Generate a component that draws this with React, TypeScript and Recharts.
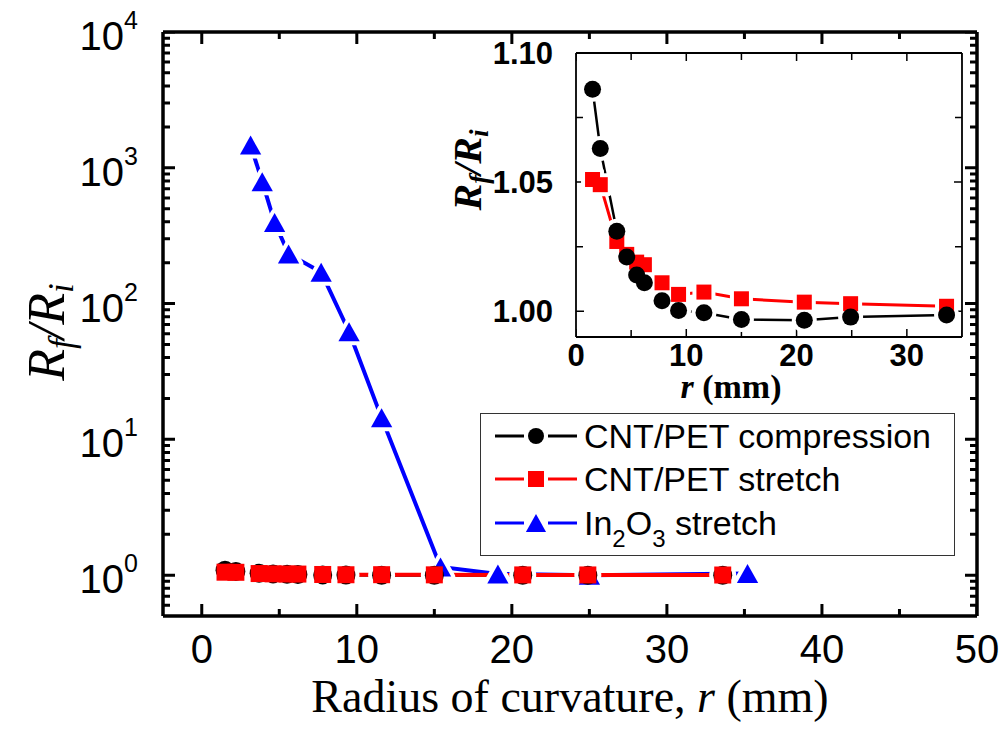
import React from "react";
import { LineChart, Line, XAxis, YAxis, Legend, Label } from "recharts";

// bending radius r (mm) for the CNT/PET film, same radii in both bending modes
const cntRadius = [1.5, 2.2, 3.7, 4.6, 5.5, 6.2, 7.8, 9.3, 11.6, 15.0, 20.7, 24.9, 33.6];
const cntCompression = [1.086, 1.063, 1.031, 1.021, 1.014, 1.011, 1.004, 1.0003, 0.9994, 0.9968, 0.9965, 0.9977, 0.9985];
const cntStretch = [1.051, 1.049, 1.027, 1.022, 1.019, 1.018, 1.011, 1.0065, 1.0074, 1.0048, 1.0035, 1.0029, 1.0019];

// In2O3 film, stretch only
const inoRadius = [3.15, 3.9, 4.7, 5.6, 7.7, 9.5, 11.6, 15.4, 19.1, 25.0, 35.2];
const inoStretch = [1470, 790, 395, 232, 170, 62, 14.4, 1.15, 1.02, 1.0, 1.03];

// axes
const mainXMajor = [0, 10, 20, 30, 40, 50];
const mainXMinor = [5, 15, 25, 35, 45];
const mainYMajor = [1, 10, 100, 1000, 10000];
const insetXMajor = [0, 10, 20, 30];
const insetXMinor = [5, 15, 25, 35];
const insetYMajor = [1.0, 1.05, 1.1];
const insetYMinor = [1.025, 1.075];

const SANS = '"Liberation Sans", Arial, sans-serif';
const SERIF = '"Liberation Serif", "Times New Roman", serif';

// log axis: minor ticks 2..9 in every decade (plus 0.6..0.9 below 1)
const mainYMinor: number[] = [];
[0.1, 1, 10, 100, 1000].forEach((d) => {
  for (let m = 2; m < 10; m++) {
    const v = +(m * d).toPrecision(6);
    if (v > 0.5 && v < 10000) mainYMinor.push(v);
  }
});

const toPoints = (xs: number[], ys: number[]) => xs.map((x, i) => ({ x, y: ys[i] }));

type Kind = "circle" | "square" | "triangle";

const SERIES: Record<string, { color: string; kind: Kind }> = {
  "CNT/PET compression": { color: "#000000", kind: "circle" },
  "CNT/PET stretch": { color: "#ff0000", kind: "square" },
  "In2O3 stretch": { color: "#0000ff", kind: "triangle" },
};
const legendOrder = ["CNT/PET compression", "CNT/PET stretch", "In2O3 stretch"];

function Mark({ cx, cy, kind, size, fill, halo = 0 }: any) {
  if (cx == null || cy == null) return null;
  const h = size / 2;
  const stroke = halo ? { stroke: fill, strokeWidth: halo, strokeLinejoin: "round" as const } : {};
  if (kind === "circle") return <circle cx={cx} cy={cy} r={h} fill={fill} {...stroke} />;
  if (kind === "square")
    return <rect x={cx - h} y={cy - h} width={size} height={size} fill={fill} {...stroke} />;
  const w = h * 1.12;
  return (
    <path
      d={`M${cx},${cy - h}L${cx + w},${cy + h}L${cx - w},${cy + h}Z`}
      fill={fill}
      {...stroke}
    />
  );
}

// frame geometry, used to turn tick lengths in px into data units
type Frame = { x0: number; x1: number; y0: number; y1: number; w: number; h: number; log: boolean };
const mainFrame: Frame = { x0: -2.5, x1: 50, y0: 0.5, y1: 10000, w: 814, h: 584, log: true };
const insetFrame: Frame = { x0: 0, x1: 35, y0: 0.99, y1: 1.1, w: 386, h: 284, log: false };

const xStep = (f: Frame, x: number, px: number) => x + (px * (f.x1 - f.x0)) / f.w;
const yStep = (f: Frame, y: number, px: number) =>
  f.log ? y * Math.pow(10, (px * Math.log10(f.y1 / f.y0)) / f.h) : y + (px * (f.y1 - f.y0)) / f.h;

// inward ticks on all four sides, as one broken polyline
function frameTicks(f: Frame, xMajor: number[], xMinor: number[], yMajor: number[], yMinor: number[], major: number, minor: number) {
  const pts: { x: number; y: number | null }[] = [];
  const seg = (a: { x: number; y: number }, b: { x: number; y: number }) => {
    pts.push(a, b, { x: b.x, y: null });
  };
  const xs = [...xMajor.map((v) => [v, major]), ...xMinor.map((v) => [v, minor])];
  const ys = [...yMajor.map((v) => [v, major]), ...yMinor.map((v) => [v, minor])];
  xs.forEach(([v, l]) => {
    seg({ x: v, y: f.y0 }, { x: v, y: yStep(f, f.y0, l) });
    seg({ x: v, y: f.y1 }, { x: v, y: yStep(f, f.y1, -l) });
  });
  ys.forEach(([v, l]) => {
    seg({ x: f.x0, y: v }, { x: xStep(f, f.x0, l), y: v });
    seg({ x: f.x1, y: v }, { x: xStep(f, f.x1, -l), y: v });
  });
  return pts;
}

// tick labels
const mainLeftLabel = (p: any) => (
  <text x={p.x - 25} y={p.y + 18} textAnchor="end" fontFamily={SANS} fontSize={40} fill="#000">
    10
    <tspan dy={-21} fontSize={25}>
      {Math.round(Math.log10(p.payload.value))}
    </tspan>
  </text>
);
const mainBottomLabel = (p: any) => (
  <text x={p.x} y={p.y + 47} textAnchor="middle" fontFamily={SANS} fontSize={40} fill="#000">
    {p.payload.value}
  </text>
);
const insetLeftLabel = (p: any) => (
  <text x={p.x - 23} y={p.y + 11} textAnchor="end" fontFamily={SANS} fontWeight="bold" fontSize={31} fill="#000">
    {Number(p.payload.value).toFixed(2)}
  </text>
);
const insetBottomLabel = (p: any) => (
  <text x={p.x} y={p.y + 29} textAnchor="middle" fontFamily={SANS} fontWeight="bold" fontSize={31} fill="#000">
    {p.payload.value}
  </text>
);

const withSubs = (name: string) =>
  name.split(/(\d)/).map((part, i) =>
    /\d/.test(part) ? (
      <span key={i} style={{ fontSize: 24, position: "relative", top: 12 }}>
        {part}
      </span>
    ) : (
      <span key={i}>{part}</span>
    )
  );

const renderLegend = (props: any) => {
  const seen = new Set<string>();
  const items = (props.payload ?? [])
    .filter((it: any) => {
      const ok = SERIES[it.value] && !seen.has(it.value);
      if (ok) seen.add(it.value);
      return ok;
    })
    .sort((a: any, b: any) => legendOrder.indexOf(a.value) - legendOrder.indexOf(b.value));
  return (
    <div
      style={{
        border: "1.5px solid #333",
        background: "#fff",
        padding: "0 0 10px 14px",
        width: 475,
        boxSizing: "border-box",
      }}
    >
      {items.map((it: any) => {
        const s = SERIES[it.value];
        const size = s.kind === "triangle" ? 18 : 16;
        return (
          <div key={it.value} style={{ display: "flex", alignItems: "center", height: 43.5 }}>
            <svg width={82} height={26}>
              <line x1={0} x2={29} y1={13} y2={13} stroke={s.color} strokeWidth={3} />
              <line x1={53} x2={82} y1={13} y2={13} stroke={s.color} strokeWidth={3} />
              <Mark cx={41} cy={13} kind={s.kind} size={size} fill={s.color} />
            </svg>
            <span style={{ marginLeft: 7, fontFamily: SANS, fontSize: 34, color: "#000", lineHeight: 1 }}>
              {withSubs(it.value)}
            </span>
          </div>
        );
      })}
    </div>
  );
};

// main plot: lines first, then white gaps round the symbols, then the symbols
const mainLayers = [
  { name: "In2O3 stretch", data: toPoints(inoRadius, inoStretch), size: 19, width: 4 },
  { name: "CNT/PET compression", data: toPoints(cntRadius, cntCompression), size: 19, width: 3 },
  { name: "CNT/PET stretch", data: toPoints(cntRadius, cntStretch), size: 17, width: 4 },
];
const insetLayers = [
  { name: "CNT/PET stretch", data: toPoints(cntRadius, cntStretch), size: 15, width: 3 },
  { name: "CNT/PET compression", data: toPoints(cntRadius, cntCompression), size: 17, width: 2.5 },
];

function layerSeries(layers: typeof mainLayers, withLegend: boolean) {
  const lines = layers.map((l) => (
    <Line
      key={`l-${l.name}`}
      data={l.data}
      dataKey="y"
      name={l.name}
      xAxisId="b"
      yAxisId="l"
      type="linear"
      stroke={SERIES[l.name].color}
      strokeWidth={l.width}
      dot={false}
      activeDot={false}
      legendType={withLegend ? "line" : "none"}
      isAnimationActive={false}
    />
  ));
  const halos = layers.map((l) => (
    <Line
      key={`h-${l.name}`}
      data={l.data}
      dataKey="y"
      name={`halo ${l.name}`}
      xAxisId="b"
      yAxisId="l"
      stroke="none"
      legendType="none"
      activeDot={false}
      dot={(p: any) => (
        <Mark key={`h-${l.name}-${p.index}`} cx={p.cx} cy={p.cy} kind={SERIES[l.name].kind} size={l.size} fill="#fff" halo={8} />
      )}
      isAnimationActive={false}
    />
  ));
  const marks = layers.map((l) => (
    <Line
      key={`m-${l.name}`}
      data={l.data}
      dataKey="y"
      name={`mark ${l.name}`}
      xAxisId="b"
      yAxisId="l"
      stroke="none"
      legendType="none"
      activeDot={false}
      dot={(p: any) => (
        <Mark key={`m-${l.name}-${p.index}`} cx={p.cx} cy={p.cy} kind={SERIES[l.name].kind} size={l.size} fill={SERIES[l.name].color} />
      )}
      isAnimationActive={false}
    />
  ));
  return [...lines, ...halos, ...marks];
}

// frame: one axis per side (line + labels), ticks from frameTicks
function frameAxes(o: {
  f: Frame;
  xMajor: number[];
  yMajor: number[];
  frameW: number;
  bottomLabel: (p: any) => React.ReactElement;
  leftLabel: (p: any) => React.ReactElement;
  xTitle: React.ReactElement;
  yTitle: React.ReactElement;
}) {
  const al = { stroke: "#000", strokeWidth: o.frameW };
  const common = { allowDataOverflow: true, interval: 0 as const, tickSize: 0, tickMargin: 0, tickLine: false, axisLine: al };
  return [
    <XAxis key="b" xAxisId="b" orientation="bottom" type="number" dataKey="x" domain={[o.f.x0, o.f.x1]} ticks={o.xMajor} height={1} tick={o.bottomLabel} {...common}>
      <Label content={() => o.xTitle} />
    </XAxis>,
    <XAxis key="t" xAxisId="t" orientation="top" type="number" dataKey="x" domain={[o.f.x0, o.f.x1]} ticks={o.xMajor} height={1} tick={false} {...common} />,
    <YAxis key="l" yAxisId="l" orientation="left" type="number" scale={o.f.log ? "log" : "auto"} domain={[o.f.y0, o.f.y1]} ticks={o.yMajor} width={1} tick={o.leftLabel} {...common}>
      <Label content={() => o.yTitle} />
    </YAxis>,
    <YAxis key="r" yAxisId="r" orientation="right" type="number" scale={o.f.log ? "log" : "auto"} domain={[o.f.y0, o.f.y1]} ticks={o.yMajor} width={1} tick={false} {...common} />,
  ];
}

const tickLine = (f: Frame, pts: any[], w: number) => (
  <Line
    key="frame-ticks"
    data={pts}
    dataKey="y"
    name="ticks"
    xAxisId="b"
    yAxisId="l"
    stroke="#000"
    strokeWidth={w}
    strokeLinecap="butt"
    dot={false}
    activeDot={false}
    legendType="none"
    isAnimationActive={false}
  />
);

export default function App() {
  return (
    <div style={{ position: "absolute", left: 0, top: 0, width: 1006, height: 731, background: "#fff" }}>
      <div style={{ position: "absolute", left: 0, top: 0 }}>
        <LineChart width={1006} height={731} margin={{ top: 31, right: 28, bottom: 114, left: 162 }}>
          {frameAxes({
            f: mainFrame,
            xMajor: mainXMajor,
            yMajor: mainYMajor,
            frameW: 3.5,
            bottomLabel: mainBottomLabel,
            leftLabel: mainLeftLabel,
            xTitle: (
              <text x={570} y={712} textAnchor="middle" fontFamily={SERIF} fontSize={46} fill="#000">
                Radius of curvature, <tspan fontStyle="italic">r</tspan> (mm)
              </text>
            ),
            yTitle: (
              <text
                transform="translate(64,332) rotate(-90)"
                textAnchor="middle"
                fontFamily={SERIF}
                fontStyle="italic"
                fontSize={52}
                fill="#000"
              >
                R<tspan fontSize={35} dy={9}>f</tspan>
                <tspan fontSize={52} dy={-9}>/R</tspan>
                <tspan fontSize={35} dy={9}>i</tspan>
              </text>
            ),
          })}
          {tickLine(mainFrame, frameTicks(mainFrame, mainXMajor, mainXMinor, mainYMajor, mainYMinor, 12, 7), 3)}
          {layerSeries(mainLayers, true)}
          <Legend
            layout="vertical"
            align="center"
            verticalAlign="middle"
            content={renderLegend}
            wrapperStyle={{ left: 480, top: 413, width: 475, height: 141 }}
          />
        </LineChart>
      </div>

      {/* inset */}
      <div style={{ position: "absolute", left: 0, top: 0, pointerEvents: "none" }}>
        <LineChart width={1006} height={731} margin={{ top: 52, right: 43, bottom: 393, left: 575 }}>
          {frameAxes({
            f: insetFrame,
            xMajor: insetXMajor,
            yMajor: insetYMajor,
            frameW: 1.8,
            bottomLabel: insetBottomLabel,
            leftLabel: insetLeftLabel,
            xTitle: (
              <text x={731} y={398} textAnchor="middle" fontFamily={SERIF} fontWeight="bold" fontSize={34} fill="#000">
                <tspan fontStyle="italic">r</tspan> (mm)
              </text>
            ),
            yTitle: (
              <text
                transform="translate(481,170) rotate(-90)"
                textAnchor="middle"
                fontFamily={SERIF}
                fontStyle="italic"
                fontWeight="bold"
                fontSize={40}
                fill="#000"
              >
                R<tspan fontSize={27} dy={7}>f</tspan>
                <tspan fontSize={40} dy={-7}>/R</tspan>
                <tspan fontSize={27} dy={7}>i</tspan>
              </text>
            ),
          })}
          {tickLine(insetFrame, frameTicks(insetFrame, insetXMajor, insetXMinor, insetYMajor, insetYMinor, 8, 7), 1.5)}
          {layerSeries(insetLayers, false)}
        </LineChart>
      </div>
    </div>
  );
}
